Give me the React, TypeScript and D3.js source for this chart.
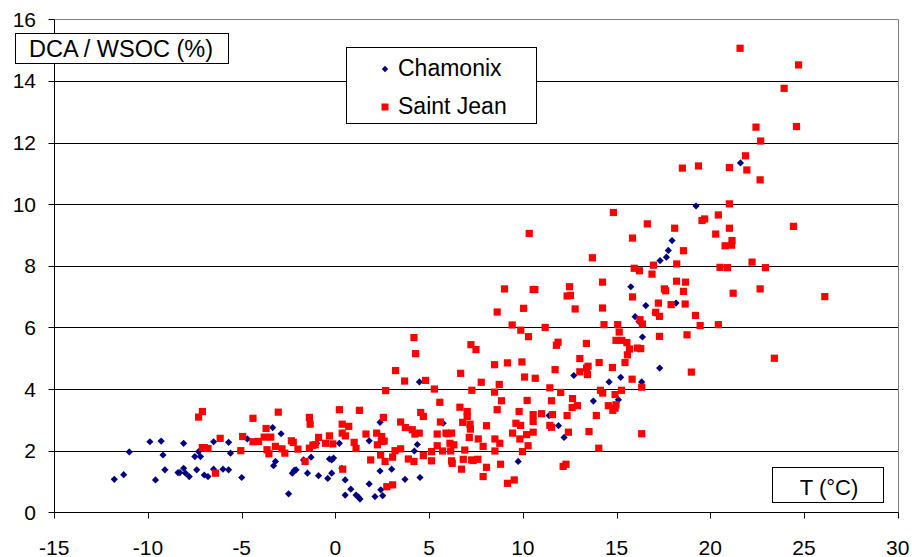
import React from "react";
import * as d3 from "d3";

// Chamonix samples: [temperature °C, DCA/WSOC %]
const chamonix: [number, number][] = [
  [-11.8, 1.07], [-11.3, 1.22], [-11.0, 1.96], [-9.9, 2.29], [-9.6, 1.05], [-9.3, 2.31],
  [-9.2, 1.86], [-9.1, 1.38], [-8.4, 1.29], [-8.3, 1.29], [-8.1, 2.24], [-8.1, 1.43],
  [-8.0, 1.27], [-7.8, 1.16], [-7.5, 1.81], [-7.4, 1.38], [-7.3, 1.97], [-7.2, 1.81],
  [-7.0, 1.21], [-6.8, 1.16], [-6.5, 2.29], [-6.5, 1.4], [-6.0, 1.4], [-5.7, 2.27],
  [-5.6, 1.92], [-5.7, 1.38], [-5.0, 1.13], [-4.7, 2.38], [-3.35, 2.75], [-2.9, 2.55],
  [-3.2, 1.65], [-3.3, 1.51], [-2.5, 0.6], [-2.3, 1.27], [-2.2, 1.36], [-2.1, 1.38],
  [-1.7, 1.7], [-1.49, 1.27], [-1.3, 1.79], [-0.9, 1.19], [-1.0, 2.24], [-0.41, 1.1],
  [-0.32, 1.73], [-0.2, 1.7], [-0.1, 1.76], [-0.2, 1.27], [0.21, 2.24], [0.34, 1.43],
  [0.52, 1.05], [0.52, 0.56], [0.82, 0.75], [1.1, 0.56], [1.23, 0.49], [1.31, 0.43],
  [1.8, 2.32], [1.8, 0.92], [2.11, 0.51], [2.38, 2.92], [2.38, 1.34], [2.42, 0.73],
  [2.52, 0.54], [3.0, 1.4], [3.71, 1.07], [4.21, 1.99], [4.37, 2.2], [4.51, 1.13],
  [5.75, 2.89], [9.75, 1.65], [11.4, 3.14], [11.9, 2.81], [12.2, 2.43], [13.76, 3.61],
  [4.48, 4.23], [12.72, 4.44], [21.61, 11.34], [19.24, 9.94], [17.96, 8.82], [17.76, 8.5],
  [17.66, 8.28], [17.32, 8.17], [15.76, 7.32], [16.56, 6.71], [18.17, 6.79], [17.05, 6.46],
  [15.99, 6.35], [16.2, 6.19], [16.38, 5.69], [17.3, 4.68], [15.22, 4.38], [14.6, 4.23],
  [16.34, 4.23], [15.1, 3.65],
];

// Saint Jean samples: [temperature °C, DCA/WSOC %]
const saintJean: [number, number][] = [
  [-7.3, 3.09], [-7.1, 3.27], [-7.1, 2.1], [-7.0, 2.1], [-6.8, 2.07], [-6.4, 1.27],
  [-6.15, 2.4], [-5.05, 2.0], [-4.95, 2.46], [-4.4, 3.05], [-4.4, 2.29], [-4.1, 2.3],
  [-3.8, 2.44], [-3.7, 2.72], [-3.45, 2.44], [-3.65, 2.03], [-3.55, 1.9], [-3.2, 2.14],
  [-3.05, 3.25], [-2.85, 2.06], [-2.7, 1.92], [-2.35, 2.32], [-2.25, 2.27], [-2.0, 2.05],
  [-1.62, 1.65], [-1.39, 3.08], [-1.35, 2.86], [-1.39, 2.08], [-1.2, 2.18], [-1.08, 2.19],
  [-0.9, 2.43], [-0.53, 2.24], [-0.32, 2.48], [-0.14, 2.22], [0.21, 3.33], [0.36, 2.86],
  [0.36, 2.57], [0.53, 2.48], [0.71, 2.79], [0.39, 1.4], [1.0, 2.27], [1.1, 2.07],
  [1.28, 3.31], [1.63, 2.54], [1.88, 1.7], [2.2, 2.57], [2.24, 2.19], [2.47, 2.46],
  [2.6, 2.31], [2.45, 2.3], [2.56, 3.08], [2.41, 1.86], [2.65, 1.65], [2.74, 0.83],
  [3.05, 0.89], [3.05, 1.79], [3.18, 2.0], [3.48, 2.06], [3.48, 2.93], [3.73, 2.75],
  [3.89, 1.73], [4.1, 2.68], [4.19, 1.65], [4.24, 2.54], [4.47, 2.57], [4.55, 3.24],
  [4.69, 3.11], [4.69, 1.84], [5.13, 1.97], [5.13, 1.67], [5.43, 2.54], [5.43, 2.16],
  [5.57, 3.57], [5.6, 2.93], [5.72, 1.99], [5.9, 2.57], [6.0, 2.55], [6.2, 2.57],
  [6.11, 2.24], [6.15, 1.99], [6.2, 1.67], [6.23, 1.59], [6.32, 2.19], [6.64, 3.41],
  [6.73, 1.4], [6.79, 2.92], [6.9, 2.02], [6.82, 1.72], [7.03, 3.27], [7.03, 3.11],
  [7.18, 2.86], [7.2, 2.7], [7.14, 2.43], [7.27, 1.7], [7.35, 1.68], [7.6, 1.72],
  [7.62, 2.38], [7.88, 1.16], [7.88, 2.14], [8.06, 2.81], [8.06, 1.46], [8.51, 2.38],
  [8.51, 1.99], [8.63, 3.33], [8.77, 2.24], [8.86, 3.62], [8.81, 1.56], [9.18, 0.94],
  [9.54, 1.05], [9.45, 2.57], [9.63, 2.89], [9.88, 2.82], [9.8, 3.27], [9.84, 2.38],
  [9.98, 1.97], [10.2, 2.52], [10.23, 3.63], [10.28, 2.16], [10.55, 3.17], [10.55, 2.95],
  [10.55, 2.6], [11.0, 3.2], [11.53, 3.62], [11.58, 3.17], [11.44, 2.82], [11.53, 2.76],
  [12.15, 1.49], [12.3, 1.56], [12.36, 3.14], [12.43, 2.6], [12.65, 3.69], [12.63, 3.4],
  [12.91, 3.46], [13.53, 2.62], [13.92, 3.14], [14.05, 2.08],
  [10.34, 9.05], [9.02, 7.25], [10.55, 7.23], [10.64, 7.23], [12.49, 7.32], [12.36, 7.02],
  [12.54, 7.04], [8.63, 6.5], [10.04, 6.62], [12.79, 6.6], [9.43, 6.08], [9.89, 5.91],
  [10.3, 5.7], [11.19, 6.0], [4.19, 5.67], [4.28, 5.15], [7.23, 5.44], [7.5, 5.28],
  [11.79, 5.42], [11.88, 5.52], [13.39, 5.48], [13.04, 4.99], [13.48, 4.74], [3.21, 4.6],
  [3.69, 4.26], [4.81, 4.28], [5.28, 4.0], [2.68, 3.95], [6.68, 4.51], [7.28, 3.96],
  [7.78, 4.22], [8.49, 4.79], [9.18, 4.85], [8.74, 4.15], [8.49, 3.9], [9.95, 4.88],
  [10.09, 4.39], [10.66, 4.35], [11.72, 4.63], [11.44, 4.04], [12.02, 3.89], [13.04, 4.56],
  [13.4, 4.68], [13.45, 4.47],
  [22.69, 12.05], [21.88, 11.57], [21.95, 11.11], [22.66, 10.79], [21.02, 11.19], [19.37, 11.24],
  [18.51, 11.17], [21.02, 10.01], [20.43, 9.65], [19.56, 9.47], [19.7, 9.52], [14.83, 9.73],
  [16.64, 9.36], [18.1, 9.22], [21.02, 9.22], [24.44, 9.28], [15.85, 8.9], [20.29, 9.03],
  [21.16, 8.82], [21.14, 8.67], [20.79, 8.65], [18.57, 8.49], [13.71, 8.26], [18.21, 8.06],
  [16.97, 8.02], [15.94, 7.92], [16.22, 7.84], [16.89, 7.73], [20.52, 7.95], [20.92, 7.94],
  [22.23, 8.12], [22.94, 7.94], [14.25, 7.47], [18.2, 7.5], [18.68, 7.47], [17.55, 7.25],
  [17.62, 7.19], [18.57, 7.17], [21.22, 7.11], [22.66, 7.25], [26.11, 7.0], [15.85, 6.99],
  [17.23, 6.79], [17.91, 6.74], [18.66, 6.76], [14.25, 6.63], [17.09, 6.49], [17.29, 6.36],
  [19.21, 6.39], [16.25, 6.25], [16.38, 6.11], [19.46, 6.06], [20.43, 6.09], [14.33, 6.09],
  [15.06, 6.09], [15.14, 5.85], [14.97, 5.58], [15.28, 5.58], [15.55, 5.51], [17.29, 5.71],
  [18.76, 5.76], [15.69, 5.3], [15.58, 5.11], [16.11, 5.33], [16.29, 5.31], [15.45, 4.86],
  [14.07, 4.86], [14.78, 4.7], [14.14, 3.96], [14.26, 3.87], [14.92, 3.82], [15.26, 3.96],
  [15.83, 4.32], [16.34, 4.06], [18.99, 4.55], [23.42, 5.0],
  [21.59, 15.06], [24.71, 14.52], [23.94, 13.76], [22.44, 12.5], [24.6, 12.52],
  [14.56, 3.46], [14.8, 3.31], [14.92, 3.38], [14.97, 3.49], [16.34, 2.55],
];

const xTicks = [-15, -10, -5, 0, 5, 10, 15, 20, 25, 30];
const yTicks = [0, 2, 4, 6, 8, 10, 12, 14, 16];

const W = 912;
const H = 557;
const FONT = "'Liberation Sans', Arial, sans-serif";

const BLUE = "#000080";
const RED = "#FF0000";

const x = d3.scaleLinear().domain([-15, 30]).range([54.3, 897.7]);
const y = d3.scaleLinear().domain([0, 16]).range([512.3, 19.3]);

const crisp = (v: number) => Math.round(v) + 0.5;

const diamondPath = (cx: number, cy: number, r: number) =>
  `M${cx},${cy - r}L${cx + r},${cy}L${cx},${cy + r}L${cx - r},${cy}Z`;

export default function App() {
  const left = crisp(x(-15));
  const right = crisp(x(30));
  const top = crisp(y(16));
  const bottom = crisp(y(0));

  return (
    <div style={{ position: "fixed", left: 0, top: 0 }}>
      <svg width={W} height={H} style={{ display: "block", background: "#fff" }}>
        {/* horizontal gridlines */}
        {yTicks.filter((t) => t > 0 && t < 16).map((t) => (
          <line key={`g${t}`} x1={left} x2={right} y1={crisp(y(t))} y2={crisp(y(t))} stroke="#000" strokeWidth={1} />
        ))}
        {/* plot frame: top and right in grey */}
        <line x1={left} x2={right} y1={top} y2={top} stroke="#808080" strokeWidth={1} />
        <line x1={right} x2={right} y1={top} y2={bottom} stroke="#808080" strokeWidth={1} />

        {/* y axis */}
        <line x1={left} x2={left} y1={top} y2={bottom} stroke="#000" strokeWidth={1} />
        {yTicks.map((t) => (
          <g key={`y${t}`}>
            <line x1={left - 6} x2={left} y1={crisp(y(t))} y2={crisp(y(t))} stroke="#000" strokeWidth={1} />
            <text x={36} y={y(t)} dy="0.36em" textAnchor="end" fontFamily={FONT} fontSize={21} fill="#000">
              {t}
            </text>
          </g>
        ))}

        {/* x axis */}
        <line x1={left} x2={right} y1={bottom} y2={bottom} stroke="#000" strokeWidth={1} />
        {xTicks.map((t) => (
          <g key={`x${t}`}>
            <line x1={crisp(x(t))} x2={crisp(x(t))} y1={bottom} y2={bottom + 6} stroke="#000" strokeWidth={1} />
            <text x={x(t)} y={555} textAnchor="middle" fontFamily={FONT} fontSize={21} fill="#000">
              {t}
            </text>
          </g>
        ))}

        {/* Chamonix */}
        {chamonix.map(([t, v], i) => (
          <path key={`c${i}`} d={diamondPath(x(t), y(v), 3.6)} fill={BLUE} />
        ))}
        {/* Saint Jean */}
        {saintJean.map(([t, v], i) => (
          <rect key={`s${i}`} x={x(t) - 3.6} y={y(v) - 3.6} width={7.2} height={7.2} fill={RED} />
        ))}

        {/* y axis title box */}
        <rect x={15.5} y={33.5} width={213} height={30} fill="#fff" stroke="#000" strokeWidth={1} />
        <text x={121} y={57} textAnchor="middle" fontFamily={FONT} fontSize={23.5} fill="#000">
          DCA / WSOC (%)
        </text>

        {/* x axis title box */}
        <rect x={772.5} y={467.5} width={111} height={35} fill="#fff" stroke="#000" strokeWidth={1} />
        <text x={829} y={495} textAnchor="middle" fontFamily={FONT} fontSize={22} fill="#000">
          T (°C)
        </text>

        {/* legend */}
        <rect x={346.5} y={47.5} width={190} height={76} fill="#fff" stroke="#000" strokeWidth={1} />
        <path d={diamondPath(385, 69, 3.2)} fill={BLUE} />
        <rect x={381.5} y={103.5} width={7} height={7} fill={RED} />
        <text x={398} y={76} fontFamily={FONT} fontSize={23} fill="#000">Chamonix</text>
        <text x={398} y={114} fontFamily={FONT} fontSize={23} fill="#000">Saint Jean</text>
      </svg>
    </div>
  );
}
